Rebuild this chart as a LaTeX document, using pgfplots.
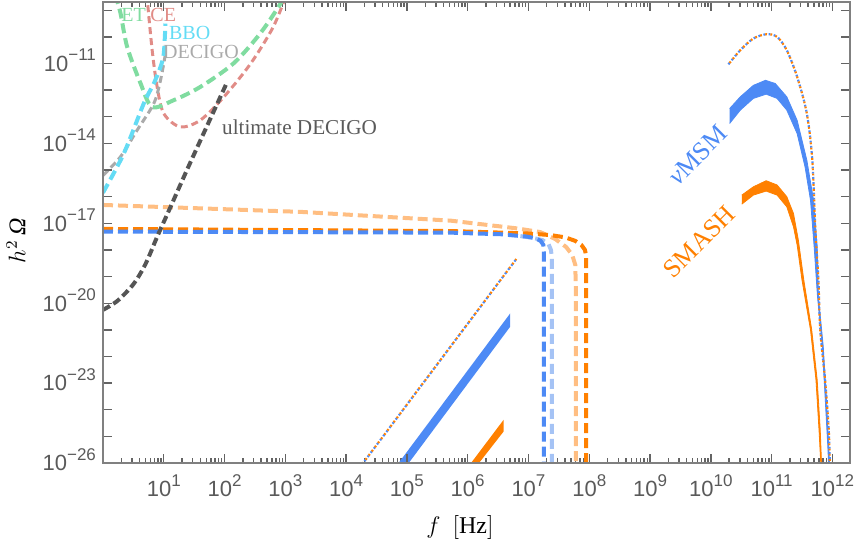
\documentclass[border=0pt]{standalone}
\usepackage{fontspec}
\setmainfont{Liberation Serif}
\newfontfamily\ticksans{Liberation Sans}
\usepackage{pgfplots}
\pgfplotsset{compat=1.18}

\definecolor{cET}{RGB}{128,220,160}
\definecolor{cCE}{RGB}{225,140,135}
\definecolor{cBBO}{RGB}{100,220,245}
\definecolor{cDEC}{RGB}{170,170,170}
\definecolor{cUD}{RGB}{85,85,85}
\definecolor{cblue}{RGB}{77,138,245}
\definecolor{corange}{RGB}{255,128,0}
\definecolor{clorange}{RGB}{255,190,130}
\definecolor{clblue}{RGB}{165,195,245}
\definecolor{axgray}{RGB}{128,128,128}
\definecolor{tkgray}{RGB}{100,100,100}
\definecolor{labgray}{RGB}{90,90,90}

% data are given as log10 exponents
\pgfplotsset{table/lg/.style={x expr=10^(\thisrow{X}), y expr=10^(\thisrow{Y}), row sep=\\}}
\newcommand\tl[1]{10\raisebox{5.2pt}{\fontsize{8.5}{9}\selectfont #1}}

\begin{document}
\begin{tikzpicture}
\useasboundingbox (-51.5pt,-42pt) rectangle (375.5pt,231.5pt);
\begin{axis}[
    at={(0,0)}, anchor=south west,
    scale only axis,
    width=373.5pt, height=230.5pt,
    xmode=log, ymode=log,
    xmin=1, xmax=1.95e12,
    ymin=1e-26, ymax=2.04e-9,
    axis on top,
    axis line style={draw=axgray, line width=0.6pt},
    every tick/.style={draw=tkgray, line width=0.7pt},
    major tick length=4.5pt,
    tick align=inside,
    xtick={1e1,1e2,1e3,1e4,1e5,1e6,1e7,1e8,1e9,1e10,1e11,1e12},
    xticklabels={\tl{1},\tl{2},\tl{3},\tl{4},\tl{5},\tl{6},\tl{7},\tl{8},\tl{9},\tl{10},\tl{11},\tl{12}},
    xminorticks=false, yminorticks=false,
    ytick={1e-26,1e-25,1e-24,1e-23,1e-22,1e-21,1e-20,1e-19,1e-18,1e-17,1e-16,1e-15,1e-14,1e-13,1e-12,1e-11,1e-10,1e-9},
    yticklabels={\tl{−26},,,\tl{−23},,,\tl{−20},,,\tl{−17},,,\tl{−14},,,\tl{−11},,},
    ticklabel style={font=\ticksans\fontsize{11}{12}\selectfont, text=labgray},
    xticklabel style={anchor=base, yshift=-16.7pt},
    yticklabel style={anchor=base east, yshift=-3.9pt},
    xlabel={$f\ \ [\mathrm{Hz}]$},
    xlabel style={at={(axis description cs:0.478,-0.139)}, anchor=center, font=\fontsize{12}{14}\selectfont},
    ylabel={$h^2$\,\textit{Ω}},
    ylabel style={at={(axis description cs:-0.1165,0.482)}, anchor=center, font=\fontsize{12}{14}\selectfont},
]

% minor ticks of the frequency axis (2..9 in every decade)
\foreach \e in {0,...,11}{\foreach \m in {2,...,9}{%
  \edef\tmp{\noexpand\draw[tkgray, line width=0.7pt]
    (axis cs:\m e\e,1e-26) -- ++(0pt,2.6pt)
    (axis cs:\m e\e,2.04e-9) -- ++(0pt,-2.6pt);}\tmp}}

% f^3 branches at low frequency
\addplot[fill=cblue, draw=none] table[lg] {X Y\\ 4.70 -26.5\\ 6.70 -20.38\\ 6.70 -20.88\\ 4.867 -26.5\\};
\addplot[fill=corange, draw=none] table[lg] {X Y\\ 5.89 -26.5\\ 6.59 -24.38\\ 6.59 -24.82\\ 6.015 -26.5\\};
\addplot[cblue, line width=1.1pt, dash pattern=on 0.9pt off 1.7pt] table[lg] {X Y\\ 4.20 -26.24\\ 6.80 -18.34\\};
\addplot[corange, line width=1.1pt, dash pattern=on 0.9pt off 1.7pt, dash phase=1.7pt] table[lg] {X Y\\ 4.20 -26.24\\ 6.80 -18.34\\};

% peaks at high frequency
\addplot[fill=cblue, draw=cblue, line width=0.4pt] table[lg] {X Y\\
10.31 -12.69\\ 10.485 -12.25\\ 10.70 -11.82\\ 10.90 -11.63\\ 11.06 -11.75\\ 11.25 -12.25\\
11.42 -13.13\\ 11.58 -14.63\\ 11.69 -16.13\\ 11.75 -17.88\\ 11.77 -19.75\\ 11.85 -21.63\\
11.90 -23.5\\ 11.94 -25.38\\ 11.96 -26.5\\
11.945 -26.5\\ 11.925 -25.38\\ 11.88 -23.5\\ 11.835 -21.63\\ 11.755 -19.75\\ 11.70 -17.88\\
11.64 -16.13\\ 11.55 -14.88\\ 11.42 -13.63\\ 11.25 -12.75\\ 11.09 -12.31\\ 10.91 -12.15\\
10.70 -12.31\\ 10.485 -12.75\\ 10.31 -13.25\\};
\addplot[fill=corange, draw=corange, line width=0.4pt] table[lg] {X Y\\
10.51 -15.94\\ 10.70 -15.63\\ 10.91 -15.40\\ 11.09 -15.56\\ 11.25 -16.0\\ 11.36 -16.63\\
11.44 -17.63\\ 11.53 -19.13\\ 11.66 -21.0\\ 11.75 -22.88\\ 11.80 -24.75\\ 11.83 -26.5\\
11.82 -26.5\\ 11.78 -24.75\\ 11.73 -22.88\\ 11.64 -21.0\\ 11.50 -19.13\\ 11.42 -17.81\\
11.36 -17.13\\ 11.25 -16.38\\ 11.09 -15.94\\ 10.91 -15.79\\ 10.70 -15.94\\ 10.51 -16.28\\};
\addplot[cblue, line width=1.1pt, smooth, dash pattern=on 0.9pt off 1.7pt] table[lg] {X Y\\
10.29 -11.03\\ 10.485 -10.50\\ 10.70 -10.06\\ 10.92 -9.90\\ 11.09 -10.0\\ 11.25 -10.50\\
11.42 -11.5\\ 11.58 -12.88\\ 11.67 -14.63\\ 11.72 -17.25\\ 11.77 -19.12\\ 11.80 -21.0\\
11.88 -22.87\\ 11.94 -24.75\\ 11.96 -26.2\\};
\addplot[corange, line width=1.1pt, smooth, dash pattern=on 0.9pt off 1.7pt, dash phase=1.7pt] table[lg] {X Y\\
10.29 -11.03\\ 10.485 -10.50\\ 10.70 -10.06\\ 10.92 -9.90\\ 11.09 -10.0\\ 11.25 -10.50\\
11.42 -11.5\\ 11.58 -12.88\\ 11.67 -14.63\\ 11.72 -17.25\\ 11.77 -19.12\\ 11.80 -21.0\\
11.88 -22.87\\ 11.94 -24.75\\ 11.96 -26.2\\};

% plateaus with cut-off
\addplot[clorange, line width=2pt, dash pattern=on 5pt off 2.5pt] table[lg] {X Y\\
0.0 -16.31\\ 3.25 -16.57\\ 5.72 -16.90\\ 6.81 -17.19\\ 7.196 -17.33\\ 7.44 -17.59\\
7.62 -17.89\\ 7.72 -18.19\\ 7.77 -18.56\\ 7.78 -19.51\\ 7.78 -26.5\\};
\addplot[corange, line width=2pt, dash pattern=on 5pt off 2.5pt] table[lg] {X Y\\
0.0 -17.21\\ 5.72 -17.29\\ 6.98 -17.38\\ 7.36 -17.44\\ 7.61 -17.53\\ 7.77 -17.66\\
7.87 -17.81\\ 7.93 -18.0\\ 7.95 -18.26\\ 7.95 -26.5\\};
\addplot[clblue, line width=2pt, dash pattern=on 5pt off 2.5pt] table[lg] {X Y\\
6.867 -17.48\\ 7.08 -17.55\\ 7.23 -17.63\\ 7.33 -17.78\\ 7.37 -18.0\\ 7.385 -18.30\\ 7.385 -26.5\\};
\addplot[cblue, line width=2pt, dash pattern=on 5pt off 2.5pt] table[lg] {X Y\\
0.0 -17.31\\ 5.72 -17.35\\ 6.54 -17.41\\ 6.98 -17.50\\ 7.12 -17.57\\ 7.20 -17.66\\
7.245 -17.81\\ 7.253 -18.07\\ 7.253 -26.5\\};

% detector sensitivities
\addplot[cCE, line width=1.5pt, smooth, dash pattern=on 3.5pt off 2pt] table[lg] {X Y\\
0.72 -8.4\\ 0.809 -10.50\\ 0.891 -11.88\\ 1.0 -12.88\\ 1.27 -13.38\\ 1.60 -13.13\\
1.99 -12.25\\ 2.43 -11.0\\ 2.80 -9.63\\ 3.02 -8.4\\};
\addplot[cET, line width=2pt, smooth, dash pattern=on 5pt off 2.5pt] table[lg] {X Y\\
0.20 -8.4\\ 0.288 -9.11\\ 0.398 -10.38\\ 0.617 -11.74\\ 0.809 -12.63\\ 1.16 -12.38\\
1.60 -11.88\\ 2.15 -10.99\\ 2.59 -9.86\\ 2.92 -8.75\\ 2.97 -8.4\\};
\addplot[cDEC, line width=1.5pt, smooth, dash pattern=on 3.5pt off 2pt] table[lg] {X Y\\
0.0 -15.2\\ 0.288 -14.5\\ 0.5625 -13.5\\ 0.836 -12.5\\ 0.946 -11.63\\ 1.028 -10.63\\};
\addplot[cBBO, line width=2pt, smooth, dash pattern=on 5pt off 2.5pt] table[lg] {X Y\\
0.0 -15.85\\ 0.342 -14.38\\ 0.671 -12.5\\ 0.836 -11.75\\ 0.95 -11.1\\ 1.0 -10.63\\ 1.028 -9.5\\};
\addplot[cUD, line width=2pt, smooth, dash pattern=on 4pt off 2pt] table[lg] {X Y\\
0.0 -20.25\\ 0.238 -19.91\\ 0.502 -19.28\\ 0.699 -18.53\\ 0.896 -17.48\\ 1.110 -16.39\\
1.357 -15.12\\ 1.604 -13.88\\ 2.048 -11.67\\};

% labels
\node[anchor=west, text=cET, font=\fontsize{10}{11}\selectfont, inner sep=0pt] at (axis description cs:0.024,0.972) {ET};
\node[anchor=west, text=cCE, font=\fontsize{10}{11}\selectfont, inner sep=0pt] at (axis description cs:0.063,0.972) {CE};
\node[anchor=west, text=cBBO, font=\fontsize{10}{11}\selectfont, inner sep=0pt] at (axis description cs:0.088,0.933) {BBO};
\node[anchor=west, text=cDEC, font=\fontsize{10}{11}\selectfont, inner sep=0pt] at (axis description cs:0.080,0.892) {DECIGO};
\node[anchor=west, text=labgray, font=\fontsize{10.6}{12}\selectfont, inner sep=0pt] at (axis description cs:0.159,0.729) {ultimate DECIGO};
\node[rotate=45, text=cblue, font=\fontsize{13}{14}\selectfont, inner sep=0pt] at (axis description cs:0.796,0.668) {\textit{ν}MSM};
\node[rotate=45, text=corange, font=\fontsize{13}{14}\selectfont, inner sep=0pt] at (axis description cs:0.798,0.480) {SMASH};
\end{axis}
\end{tikzpicture}
\end{document}
